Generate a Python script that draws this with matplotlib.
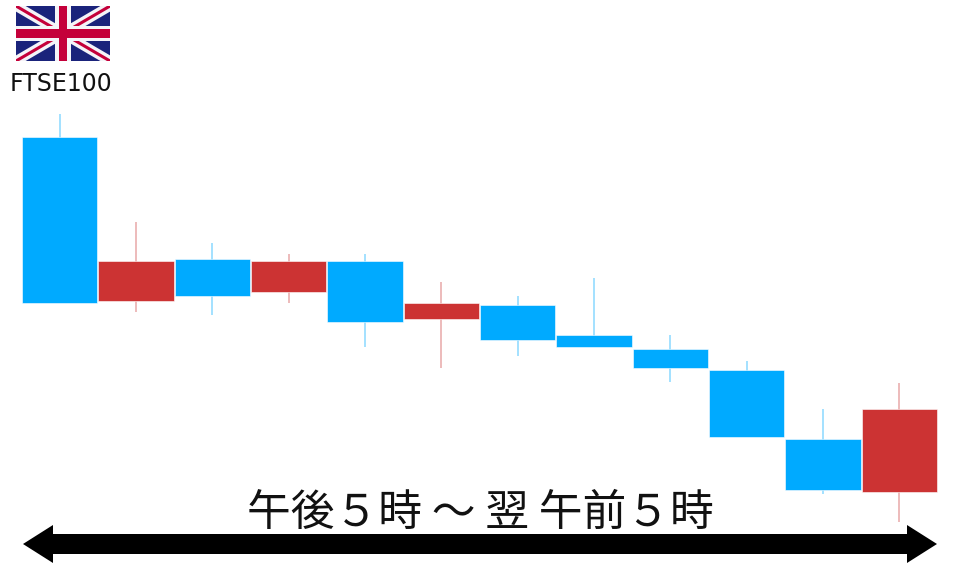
import numpy as np
import matplotlib
matplotlib.use('Agg')
import matplotlib.pyplot as plt

plt.rcParams['font.family'] = ['Noto Sans CJK JP', 'DejaVu Sans']

# values (height above the bottom edge, in picture units)
tops = [430.5, 306.5, 308.5, 306.5, 306.5, 264.5, 262.5, 232.5, 218.5, 197.5, 128.5, 158.5]
bottoms = [264, 266, 271, 275, 245, 248, 227, 220, 199, 130, 77, 75]
highs = [453, 345, 324, 313, 313, 285, 271, 289, 232, 206, 158, 184]
lows = [264, 255, 252, 264, 220, 199, 211, 220, 185, 130, 73, 45]
rising = [0, 1, 0, 1, 0, 1, 0, 0, 0, 0, 0, 1]
title = '午後５時 ～ 翌 午前５時'
name = 'FTSE100'

W, H = 960, 567
blue, red = '#00AAFF', '#CC3333'
wick_blue, wick_red = '#8AD8FF', '#E8A8A8'

fig = plt.figure(figsize=(W / 100, H / 100), dpi=100)

# candles
ax = fig.add_axes([21.5 / W, 0, 916 / W, 1])
ax.set_xlim(-0.5, 11.5)
ax.set_ylim(0, H)
ax.axis('off')
x = np.arange(len(tops))
for i in x:
    col = red if rising[i] else blue
    wick = wick_red if rising[i] else wick_blue
    ax.vlines(i, lows[i], highs[i], color=wick, lw=1.1, zorder=1)
    ax.bar(i, tops[i] - bottoms[i], bottom=bottoms[i], width=0.99, color=col,
           edgecolor='white', linewidth=0.4, zorder=2)

# overlay in picture pixels for the arrow and text
ov = fig.add_axes([0, 0, 1, 1])
ov.set_xlim(0, W)
ov.set_ylim(H, 0)
ov.axis('off')
ov.patch.set_alpha(0)
ov.fill([23, 53, 53, 907, 907, 937, 907, 907, 53, 53],
        [544, 525, 534, 534, 525, 544, 563, 554, 554, 563], color='black', lw=0)
ov.text(480, 513, title, ha='center', va='center', fontsize=31.5, color='#111111')
ov.text(61, 84, name, ha='center', va='center', fontsize=17, color='#111111',
        family='DejaVu Sans')

# flag
fl = fig.add_axes([16 / W, 1 - 61 / H, 94 / W, 55 / H])
fl.set_xlim(0, 60)
fl.set_ylim(0, 30)
fl.axis('off')
fl.fill([0, 60, 60, 0], [0, 0, 30, 30], color='#1A237B', lw=0, zorder=1)
fl.plot([0, 60], [0, 30], color='#F4F4F8', lw=7, solid_capstyle='butt', zorder=2)
fl.plot([0, 60], [30, 0], color='#F4F4F8', lw=7, solid_capstyle='butt', zorder=2)
fl.plot([0, 60], [0, 30], color='#C4003A', lw=2.2, solid_capstyle='butt', zorder=3)
fl.plot([0, 60], [30, 0], color='#C4003A', lw=2.2, solid_capstyle='butt', zorder=3)
fl.fill([25.2, 34.8, 34.8, 25.2], [0, 0, 30, 30], color='#F4F4F8', lw=0, zorder=4)
fl.fill([0, 60, 60, 0], [10.7, 10.7, 19.3, 19.3], color='#F4F4F8', lw=0, zorder=4)
fl.fill([27.5, 32.5, 32.5, 27.5], [0, 0, 30, 30], color='#C4003A', lw=0, zorder=5)
fl.fill([0, 60, 60, 0], [12.5, 12.5, 17.5, 17.5], color='#C4003A', lw=0, zorder=5)

fig.savefig('out.png', dpi=100)
